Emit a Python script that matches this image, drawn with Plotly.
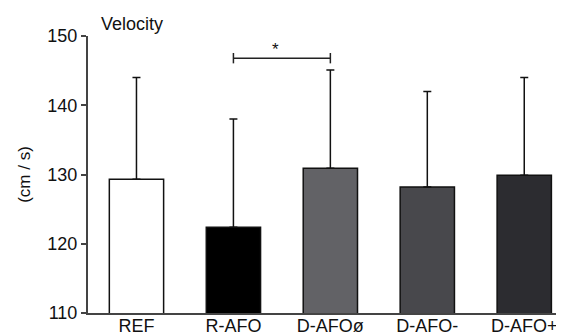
import plotly.graph_objects as go

categories = ["REF", "R-AFO", "D-AFOø", "D-AFO-", "D-AFO+"]
means = [129.3, 122.4, 130.9, 128.2, 129.9]
sd_top = [144.0, 138.0, 145.1, 142.0, 144.0]
bar_colors = ["#ffffff", "#000000", "#626266", "#48484c", "#2c2c30"]
y_ticks = [110, 120, 130, 140, 150]
sig_pair = ("R-AFO", "D-AFOø")
sig_level = 146.8
sig_label = "*"

err_up = [t - m for t, m in zip(sd_top, means)]

fig = go.Figure()
fig.add_trace(go.Bar(
    x=categories, y=means,
    marker=dict(color=bar_colors, line=dict(color="#111111", width=1.5)),
    width=0.56,
    error_y=dict(type="data", symmetric=False, array=err_up,
                 arrayminus=[0] * len(means), color="#111111",
                 thickness=1.5, width=4),
    showlegend=False,
))

i0 = categories.index(sig_pair[0])
i1 = categories.index(sig_pair[1])
line_style = dict(color="#222222", width=1.5)
fig.add_shape(type="line", x0=i0, x1=i1, y0=sig_level, y1=sig_level,
              xref="x", yref="y", line=line_style)
for xi in (i0, i1):
    fig.add_shape(type="line", x0=xi, x1=xi, y0=sig_level - 0.75,
                  y1=sig_level + 0.75, xref="x", yref="y", line=line_style)
fig.add_annotation(x=(i0 + i1) / 2 - 0.07, y=sig_level + 0.2, text=sig_label,
                   showarrow=False, xref="x", yref="y", yanchor="bottom",
                   yshift=-4, font=dict(size=17, color="#111111"))

fig.add_annotation(x=0.023, y=1.0, xref="paper", yref="paper",
                   text="Velocity", showarrow=False, xanchor="left",
                   yanchor="bottom", yshift=0,
                   font=dict(size=18, color="#111111"))

fig.update_layout(
    width=556, height=328,
    margin=dict(l=80, r=0, t=28, b=23),
    paper_bgcolor="white", plot_bgcolor="white",
    font=dict(family="Liberation Sans, Arial, sans-serif", size=18, color="#111111"),
    bargap=0.44,
)
fig.update_xaxes(
    range=[-0.5, 4.41], showline=True, linecolor="#444444", linewidth=2,
    ticks="", showgrid=False, zeroline=False, automargin=False,
    tickfont=dict(size=18), ticklabelstandoff=-5,
)
fig.update_yaxes(
    range=[110, 150], tickvals=y_ticks, showline=True, linecolor="#444444",
    linewidth=2, ticks="outside", ticklen=5, tickwidth=1.5, tickcolor="#444444",
    showgrid=False, zeroline=False, automargin=False,
    title=dict(text="(cm / s)", font=dict(size=17), standoff=12),
    tickfont=dict(size=18),
)

fig.write_html("out.html")
